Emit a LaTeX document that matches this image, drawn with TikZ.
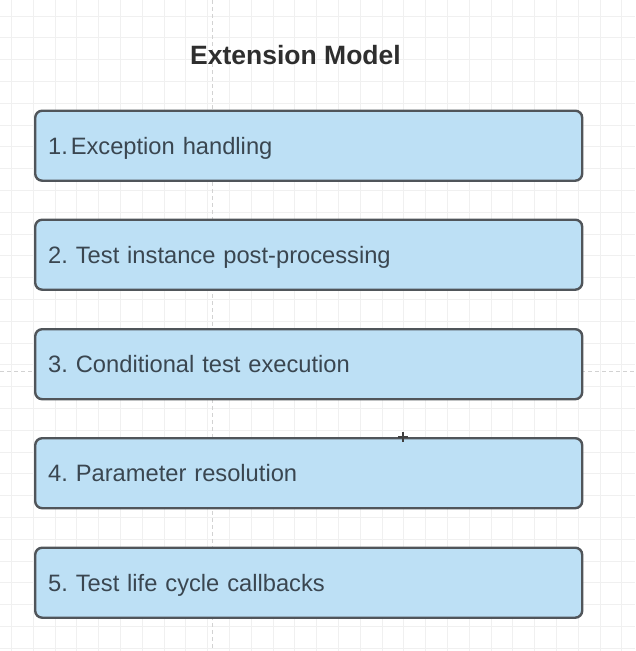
\documentclass[tikz,border=0pt]{standalone}
\usepackage{fontspec}
\setmainfont{Liberation Sans}
\definecolor{boxfill}{HTML}{BDE0F5}
\definecolor{boxline}{HTML}{50555A}
\definecolor{txt}{HTML}{3A4650}
\definecolor{gridc}{HTML}{F0F0F0}
\definecolor{dashc}{HTML}{D2D2D2}
\begin{document}
\begin{tikzpicture}[x=1pt,y=-1pt,
  itembox/.style={draw=boxline, fill=boxfill, line width=2.4pt, rounded corners=7pt,
    anchor=north west, minimum width=547pt, minimum height=70pt,
    text width=521pt, inner xsep=13pt, align=left, text=txt,
    font=\fontsize{23.7pt}{28pt}\selectfont\frenchspacing, text height=17pt, text depth=0pt},
  titlestyle/.style={font=\fontsize{26.5pt}{30pt}\selectfont\bfseries, text=black!82},
  gridline/.style={draw=gridc, line width=0.7pt},
  guide/.style={draw=dashc, line width=1pt, dash pattern=on 3.5pt off 3.5pt}]
\useasboundingbox (0,0) rectangle (635,651);
\fill[white] (0,0) rectangle (635,651);
% background grid
\foreach \i in {0,...,29} {
  \draw[gridline] ({11.4+21.8*\i},0) -- ({11.4+21.8*\i},651);
}
\foreach \j in {0,...,29} {
  \draw[gridline] (0,{16+21.8*\j}) -- (635,{16+21.8*\j});
}
% guides
\draw[guide] (212.5,0) -- (212.5,651);
\draw[guide] (0,371.7) -- (635,371.7);
% title
\node[titlestyle] (title) at (295.5,55) {Extension Model};
% boxes
\node[itembox] (b1) at (34,109.5) {1.\hspace{0.12em}Exception handling};
\node[itembox] (b2) at (34,218.5) {2. Test instance post-processing};
\node[itembox] (b3) at (34,328) {3. Conditional test execution};
\node[itembox] (b4) at (34,437) {4. Parameter resolution};
\node[itembox] (b5) at (34,546.5) {5. Test life cycle callbacks};
% cursor
\coordinate (cur) at (403,437);
\draw[black!75, line width=1.8pt] ([xshift=-5pt]cur) -- ([xshift=5pt]cur);
\draw[black!75, line width=1.8pt] ([yshift=-5pt]cur) -- ([yshift=5pt]cur);
\end{tikzpicture}
\end{document}
